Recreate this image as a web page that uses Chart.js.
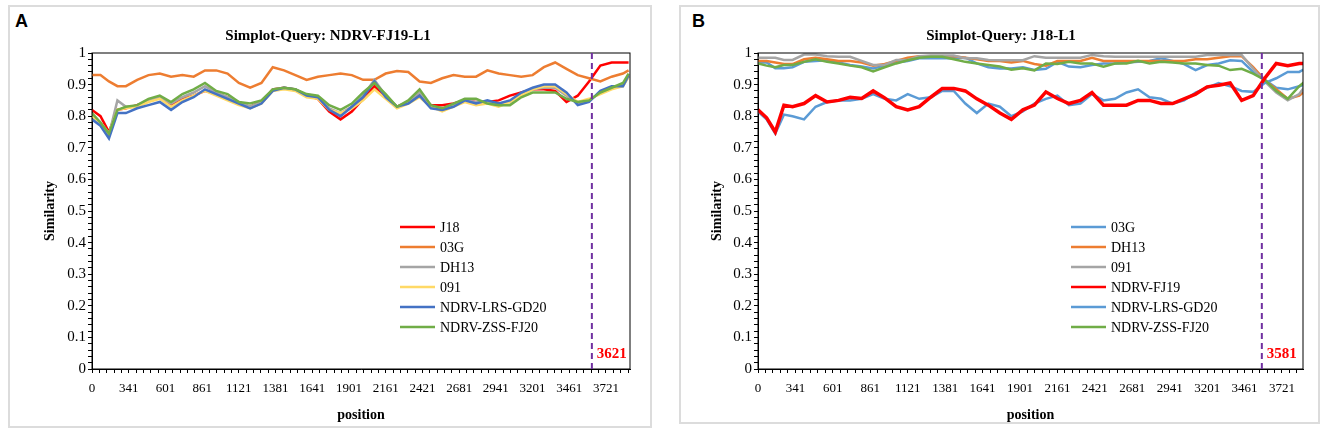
<!DOCTYPE html>
<html lang="en">
<head>
  <meta charset="UTF-8">
  <title>Simplot</title>
  <style>
    body {
      margin: 0;
      background: #fff;
      width: 1326px;
      height: 440px;
      position: relative;
      overflow: hidden;
    }
    .frame {
      position: absolute;
      top: 5px;
      border: 2px solid #dcdcdc;
      box-sizing: border-box;
    }
    #frameA { left: 8px; width: 644px; height: 423px; }
    #frameB { left: 679px; width: 641px; height: 419px; }
    canvas { position: absolute; top: 5px; }
    #chartA { left: 8px; }
    #chartB { left: 679px; }
    .tag {
      position: absolute;
      top: 11px;
      font: bold 18px Arial, "Liberation Sans", sans-serif;
      color: #000;
    }
  </style>
</head>
<body>
  <div class="frame" id="frameA"></div>
  <div class="frame" id="frameB"></div>
  <div class="tag" style="left: 15px;">A</div>
  <div class="tag" style="left: 692px;">B</div>
  <canvas id="chartA" width="644" height="423"></canvas>
  <canvas id="chartB" width="641" height="419"></canvas>

  <script src="https://cdn.jsdelivr.net/npm/chart.js"></script>
  <script>
    // window positions (bp) that the values were read at
    const positions = [0,141,201,261,321, 401,481,561,641,721, 801,881,961,1041,1121, 1201,1281,1361,1441,1521,
      1601,1681,1761,1841,1921, 2001,2081,2161,2241,2321, 2401,2481,2561,2641,2721, 2801,2881,2961,3041,3121,
      3201,3281,3361,3441,3521, 3601,3681,3761,3841,3881];
    const tickPositions = [0,341,601,861,1121,1381,1641,1901,2161,2421,2681,2941,3201,3461,3721];

    // panel A: query NDRV-FJ19-L1
    const titleA = 'Simplot-Query: NDRV-FJ19-L1';
    const breakA = 3621;
    const namesA = ['J18', '03G', 'DH13', '091', 'NDRV-LRS-GD20', 'NDRV-ZSS-FJ20'];
    const colorsA = ['#ff0000', '#ed7d31', '#a5a5a5', '#ffd966', '#4472c4', '#70ad47'];
    const a_J18 = [0.82,0.80,0.75,0.82,0.825, 0.835,0.85,0.86,0.835,0.855, 0.865,0.88,0.87,0.86,0.84, 0.83,0.845,0.885,0.89,0.885,
      0.865,0.855,0.815,0.79,0.815, 0.855,0.895,0.86,0.83,0.845, 0.87,0.835,0.835,0.84,0.85, 0.845,0.845,0.85,0.865,0.875,
      0.885,0.885,0.88,0.845,0.865, 0.91,0.96,0.97,0.97,0.97];
    const a_03G = [0.93,0.93,0.91,0.895,0.895, 0.915,0.93,0.935,0.925,0.93, 0.925,0.945,0.945,0.935,0.905, 0.89,0.905,0.955,0.945,0.93,
      0.915,0.925,0.93,0.935,0.93, 0.915,0.915,0.935,0.943,0.94, 0.91,0.905,0.92,0.93,0.925, 0.925,0.945,0.935,0.93,0.925,
      0.93,0.955,0.97,0.95,0.93, 0.92,0.91,0.925,0.935,0.945];
    const a_DH13 = [0.80,0.78,0.74,0.85,0.83, 0.83,0.85,0.86,0.84,0.86, 0.875,0.895,0.875,0.86,0.845, 0.83,0.845,0.885,0.89,0.885,
      0.865,0.86,0.825,0.81,0.83, 0.865,0.915,0.865,0.83,0.845, 0.875,0.83,0.82,0.835,0.85, 0.845,0.845,0.84,0.845,0.87,
      0.885,0.89,0.89,0.865,0.84, 0.85,0.875,0.89,0.895,0.925];
    const a_091 = [0.80,0.78,0.745,0.82,0.825, 0.83,0.845,0.855,0.83,0.85, 0.865,0.88,0.865,0.85,0.835, 0.825,0.84,0.88,0.885,0.88,
      0.86,0.855,0.82,0.81,0.825, 0.85,0.885,0.855,0.825,0.84, 0.86,0.83,0.815,0.83,0.845, 0.835,0.84,0.83,0.845,0.865,
      0.885,0.895,0.895,0.87,0.845, 0.855,0.87,0.885,0.895,0.925];
    const a_LRS = [0.79,0.77,0.73,0.81,0.81, 0.825,0.835,0.845,0.82,0.845, 0.86,0.885,0.87,0.855,0.84, 0.825,0.84,0.88,0.89,0.885,
      0.865,0.86,0.82,0.80,0.83, 0.86,0.91,0.86,0.83,0.84, 0.865,0.825,0.82,0.83,0.85, 0.84,0.85,0.84,0.85,0.875,
      0.89,0.90,0.90,0.875,0.835, 0.845,0.88,0.895,0.895,0.93];
    const a_ZSS = [0.81,0.78,0.745,0.82,0.83, 0.835,0.855,0.865,0.845,0.87, 0.885,0.905,0.88,0.87,0.845, 0.84,0.85,0.885,0.89,0.885,
      0.87,0.865,0.835,0.82,0.84, 0.875,0.905,0.87,0.83,0.85, 0.885,0.835,0.825,0.84,0.855, 0.855,0.84,0.835,0.835,0.86,
      0.875,0.875,0.875,0.855,0.845, 0.85,0.875,0.89,0.905,0.935];

    // panel B: query J18-L1
    const titleB = 'Simplot-Query: J18-L1';
    const breakB = 3581;
    const namesB = ['03G', 'DH13', '091', 'NDRV-FJ19', 'NDRV-LRS-GD20', 'NDRV-ZSS-FJ20'];
    const colorsB = ['#5b9bd5', '#ed7d31', '#a5a5a5', '#ff0000', '#5b9bd5', '#70ad47'];
    const b_03G = [0.97,0.97,0.952,0.952,0.955, 0.972,0.975,0.977,0.97,0.962, 0.957,0.951,0.96,0.97,0.975, 0.983,0.983,0.983,0.983,0.985,
      0.967,0.955,0.951,0.951,0.955, 0.946,0.95,0.972,0.957,0.955, 0.962,0.967,0.967,0.97,0.972, 0.975,0.983,0.975,0.965,0.946,
      0.962,0.967,0.977,0.975,0.94, 0.915,0.89,0.885,0.895,0.90];
    const b_DH13 = [0.975,0.975,0.97,0.965,0.965, 0.98,0.985,0.98,0.975,0.975, 0.97,0.96,0.965,0.975,0.985, 0.99,0.99,0.99,0.99,0.985,
      0.98,0.975,0.975,0.97,0.975, 0.965,0.96,0.975,0.975,0.975, 0.985,0.975,0.975,0.975,0.975, 0.975,0.975,0.975,0.975,0.98,
      0.98,0.985,0.99,0.99,0.955, 0.915,0.885,0.855,0.865,0.88];
    const b_091 = [0.985,0.985,0.985,0.978,0.978, 0.995,0.995,0.99,0.988,0.988, 0.975,0.962,0.962,0.978,0.978, 0.99,0.992,0.992,0.992,0.983,
      0.983,0.978,0.977,0.977,0.977, 0.99,0.985,0.985,0.985,0.985, 0.994,0.99,0.988,0.988,0.988, 0.988,0.988,0.988,0.988,0.988,
      0.994,0.994,0.994,0.994,0.95, 0.91,0.875,0.85,0.87,0.895];
    const b_FJ19 = [0.82,0.795,0.75,0.835,0.83, 0.84,0.865,0.845,0.85,0.86, 0.856,0.88,0.858,0.83,0.82, 0.83,0.86,0.888,0.888,0.88,
      0.855,0.835,0.81,0.79,0.82, 0.835,0.877,0.856,0.84,0.85, 0.875,0.835,0.835,0.835,0.85, 0.85,0.84,0.84,0.855,0.87,
      0.893,0.898,0.905,0.85,0.865, 0.92,0.967,0.96,0.967,0.967];
    const b_LRS = [0.815,0.79,0.745,0.805,0.80, 0.79,0.83,0.845,0.85,0.85, 0.855,0.87,0.855,0.85,0.87, 0.855,0.86,0.88,0.88,0.84,
      0.81,0.84,0.83,0.80,0.815, 0.84,0.855,0.865,0.835,0.84, 0.87,0.85,0.855,0.875,0.885, 0.86,0.855,0.84,0.85,0.875,
      0.89,0.905,0.895,0.88,0.877, 0.905,0.92,0.94,0.94,0.95];
    const b_ZSS = [0.967,0.96,0.955,0.962,0.962, 0.972,0.98,0.972,0.967,0.96, 0.955,0.942,0.955,0.967,0.977, 0.985,0.988,0.988,0.98,0.972,
      0.967,0.962,0.957,0.947,0.952, 0.945,0.967,0.965,0.972,0.967, 0.967,0.957,0.967,0.967,0.975, 0.967,0.972,0.97,0.967,0.967,
      0.962,0.96,0.946,0.95,0.935, 0.915,0.88,0.855,0.895,0.91];

    const serif = '"Liberation Serif", "Times New Roman", serif';

    // the x axis is the window number: 0, then 101, 121, ... in steps of 20
    function toIdx(p) {
      return p === 0 ? 0 : (p - 81) / 20;
    }

    const decor = {
      id: 'decor',
      afterDraw(chart, args, opts) {
        const ctx = chart.ctx;
        const a = chart.chartArea;
        const x = chart.scales.x;
        ctx.save();
        ctx.strokeStyle = '#000';
        ctx.lineWidth = 1;
        ctx.strokeRect(a.left, a.top, a.right - a.left, a.bottom - a.top);

        const bx = x.getPixelForValue(toIdx(opts.breakPos));
        ctx.strokeStyle = '#7030a0';
        ctx.lineWidth = 2;
        ctx.setLineDash([6, 4]);
        ctx.beginPath();
        ctx.moveTo(bx, a.top);
        ctx.lineTo(bx, a.bottom);
        ctx.stroke();
        ctx.setLineDash([]);

        ctx.fillStyle = '#ff0000';
        ctx.font = 'bold 15px ' + serif;
        ctx.textAlign = 'left';
        ctx.textBaseline = 'middle';
        ctx.fillText(String(opts.breakPos), bx + 5, a.bottom - 15);

        // legend inside the plot
        ctx.font = '14px ' + serif;
        ctx.lineWidth = 2.5;
        opts.names.forEach((n, i) => {
          const y = 222 + i * 20;
          ctx.strokeStyle = opts.colors[i];
          ctx.beginPath();
          ctx.moveTo(392, y);
          ctx.lineTo(427, y);
          ctx.stroke();
          ctx.fillStyle = '#000';
          ctx.fillText(n, 432, y + 1);
        });
        ctx.restore();
      }
    };

    function makeChart(id, title, names, colors, series, orders, widths, breakPos, geo) {
      const datasets = series.map((vals, i) => ({
        label: names[i],
        data: vals.map((v, k) => ({ x: toIdx(positions[k]), y: v })),
        borderColor: colors[i],
        backgroundColor: colors[i],
        borderWidth: widths[i],
        pointRadius: 0,
        tension: 0,
        fill: false,
        order: orders[i]
      }));

      return new Chart(document.getElementById(id), {
        type: 'line',
        data: { datasets },
        options: {
          responsive: false,
          animation: false,
          layout: { padding: { left: geo.padL, right: geo.padR, top: 0, bottom: 0 } },
          plugins: {
            legend: { display: false },
            tooltip: { enabled: false },
            title: {
              display: true,
              text: title,
              color: '#000',
              font: { family: serif, size: 15, weight: 'bold' },
              padding: { top: 22, bottom: 8 }
            },
            decor: { breakPos, names, colors }
          },
          scales: {
            x: {
              type: 'linear',
              min: 0,
              max: geo.xMax,
              afterBuildTicks: s => {
                const t = [];
                for (let k = 0; k * 2.6 <= geo.xMax; k++) t.push({ value: k * 2.6 });
                s.ticks = t;
              },
              afterFit: s => { s.height = geo.xH; },
              ticks: {
                autoSkip: false,
                maxRotation: 0,
                minRotation: 0,
                padding: 8,
                color: '#000',
                font: { family: serif, size: 13 },
                callback: v => {
                  const p = tickPositions.find(tp => Math.abs(toIdx(tp) - v) < 1e-6);
                  return p === undefined ? '' : String(p);
                }
              },
              grid: { drawOnChartArea: false, drawTicks: true, tickLength: 4, color: '#000' },
              border: { display: true, color: '#000', width: 1 },
              title: {
                display: true,
                text: 'position',
                color: '#000',
                font: { family: serif, size: 14, weight: 'bold' },
                padding: { top: 0, bottom: geo.xTitlePad }
              }
            },
            y: {
              min: 0,
              max: 1,
              ticks: {
                stepSize: 0.02,
                autoSkip: false,
                padding: 2,
                color: '#000',
                font: { family: serif, size: 15 },
                callback: v => Math.abs(v * 10 - Math.round(v * 10)) < 1e-6 ? String(Math.round(v * 10) / 10) : ''
              },
              afterFit: s => { s.width = geo.yW; },
              grid: { drawOnChartArea: false, drawTicks: true, tickLength: 4, color: '#000' },
              border: { display: true, color: '#000', width: 1 },
              title: {
                display: true,
                text: 'Similarity',
                color: '#000',
                font: { family: serif, size: 14, weight: 'bold' },
                padding: { top: geo.yTitlePad, bottom: 0 }
              }
            }
          }
        },
        plugins: [decor]
      });
    }

    makeChart('chartA', titleA, namesA, colorsA,
      [a_J18, a_03G, a_DH13, a_091, a_LRS, a_ZSS],
      [0, -1, -2, -3, -4, -5],
      [2.5, 2.5, 2.5, 2.5, 2.5, 2.5],
      breakA,
      { padL: 18, padR: 22, yW: 66, xH: 59, xMax: 190.5, xTitlePad: 4.6, yTitlePad: 15.6 });

    makeChart('chartB', titleB, namesB, colorsB,
      [b_03G, b_DH13, b_091, b_FJ19, b_LRS, b_ZSS],
      [0, -1, -2, -10, -4, -5],
      [2.5, 2.5, 2.5, 3.5, 2.5, 2.5],
      breakB,
      { padL: 20, padR: 17, yW: 59, xH: 55, xMax: 189.3, xTitlePad: 0.6, yTitlePad: 9.6 });
  </script>
</body>
</html>
